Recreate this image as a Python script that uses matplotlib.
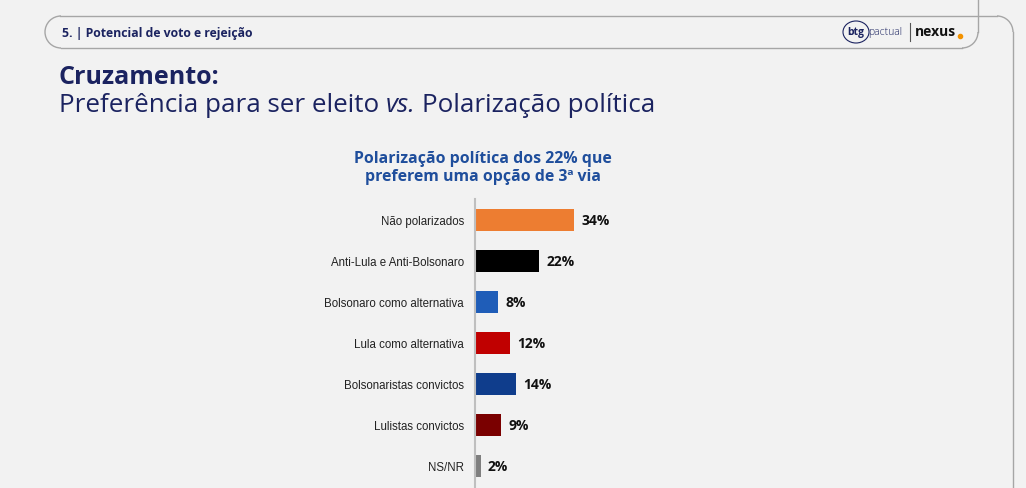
import matplotlib.pyplot as plt
from matplotlib.patches import Ellipse, Arc

categories = [
    "Não polarizados",
    "Anti-Lula e Anti-Bolsonaro",
    "Bolsonaro como alternativa",
    "Lula como alternativa",
    "Bolsonaristas convictos",
    "Lulistas convictos",
    "NS/NR",
]
values = [34, 22, 8, 12, 14, 9, 2]
colors = ["#ED7D31", "#000000", "#1F5DB8", "#C00000", "#0F3D8C", "#7A0000", "#7F7F7F"]

header = "5. | Potencial de voto e rejeição"
title_bold = "Cruzamento:"
title_rest = "Preferência para ser eleito "
chart_title = "Polarização política dos 22% que\npreferem uma opção de 3ª via"

W, H = 1026, 489
BG = "#F2F2F2"
NAVY = "#1B2360"
EDGE = "#A6A6A6"

fig = plt.figure(figsize=(W / 100, H / 100), dpi=100, facecolor=BG)

# background layer in pixel coordinates
bg = fig.add_axes([0, 0, 1, 1])
bg.set_xlim(0, W)
bg.set_ylim(H, 0)
bg.axis("off")

# outer frame: only top edge and rounded top-right corner + right side
r = 16
bg.plot([60, 1013 - r], [17, 17], color=EDGE, lw=1.0)
bg.add_patch(Arc((1013 - r, 17 + r), 2 * r, 2 * r, theta1=270, theta2=360, color=EDGE, lw=1.0))
bg.plot([1013, 1013], [17 + r, H + 5], color=EDGE, lw=1.0)

# header pill: rounded left side, bottom-right curve, right edge going up to top
bg.add_patch(Arc((45 + r, 33), 2 * r, 32, theta1=90, theta2=270, color=EDGE, lw=1.0))
bg.plot([45 + r, 978 - r], [49, 49], color=EDGE, lw=1.0)
bg.add_patch(Arc((978 - r, 49 - r), 2 * r, 2 * r, theta1=0, theta2=90, color=EDGE, lw=1.0))
bg.plot([978, 978], [0, 49 - r], color=EDGE, lw=1.0)

bg.text(62, 34, header, fontsize=8.8, fontweight="bold", color=NAVY, family="Open Sans",
        va="center", ha="left")

# logo
bg.add_patch(Ellipse((856, 33), 26, 22, fc="none", ec=NAVY, lw=0.8))
bg.text(856, 33, "btg", fontsize=7.5, fontweight="bold", color=NAVY, family="Open Sans",
        va="center", ha="center")
bg.text(868, 33, "pactual", fontsize=7.5, fontweight="light", color=NAVY, family="Open Sans",
        va="center", ha="left")
bg.plot([910, 910], [24, 42], color="#555555", lw=0.8)
bg.text(915, 32, "nexus", fontsize=10, fontweight="bold", color="#111111", family="Open Sans",
        va="center", ha="left")
bg.plot([960], [37], "o", color="#F39200", ms=3)

bg.text(59, 78, title_bold, fontsize=18, fontweight="bold", color=NAVY, family="Open Sans",
        va="center", ha="left")
t = bg.text(59, 106, title_rest, fontsize=18.7, color=NAVY, family="Open Sans",
            va="center", ha="left")
fig.canvas.draw()
bb = t.get_window_extent()
t2 = bg.text(bb.x1, H - 106, "vs.", fontsize=18.7, style="italic", color=NAVY, family="Open Sans",
             va="center", ha="left", transform=None)
bb2 = t2.get_window_extent()
bg.text(bb2.x1 + 6, H - 106, "Polarização política", fontsize=18.7, color=NAVY, family="Open Sans",
        va="center", ha="left", transform=None)

bg.text(483, 168, chart_title, fontsize=11.4, fontweight="bold", color="#1F4E9C",
        family="Open Sans", va="center", ha="center", linespacing=1.1)

# bar chart axes: x from 475 to 975 px, y from 200 to 489 px
ax = fig.add_axes([475 / W, 0, 500 / W, (H - 200) / H])
ax.set_facecolor("none")
ypos = list(range(len(categories)))
ax.barh(ypos, values, height=0.56, color=colors)
ax.set_xlim(0, 500 / 2.92)
ax.set_ylim(6 + 22 / 41, -21 / 41)
for y, v in zip(ypos, values):
    ax.text(v + 2.4, y, f"{v}%", fontsize=10, fontweight="bold", color="#111111",
            family="Open Sans", va="center", ha="left")
ax.set_yticks(ypos)
ax.set_yticklabels(categories, fontsize=8.3, family="Liberation Sans", color="#222222")
ax.tick_params(axis="y", length=0, pad=8)
ax.set_xticks([])
for s in ["top", "right", "bottom"]:
    ax.spines[s].set_visible(False)
ax.spines["left"].set_color("#BFBFBF")
ax.spines["left"].set_linewidth(1.5)

fig.savefig("out.png", dpi=100, facecolor=BG)
